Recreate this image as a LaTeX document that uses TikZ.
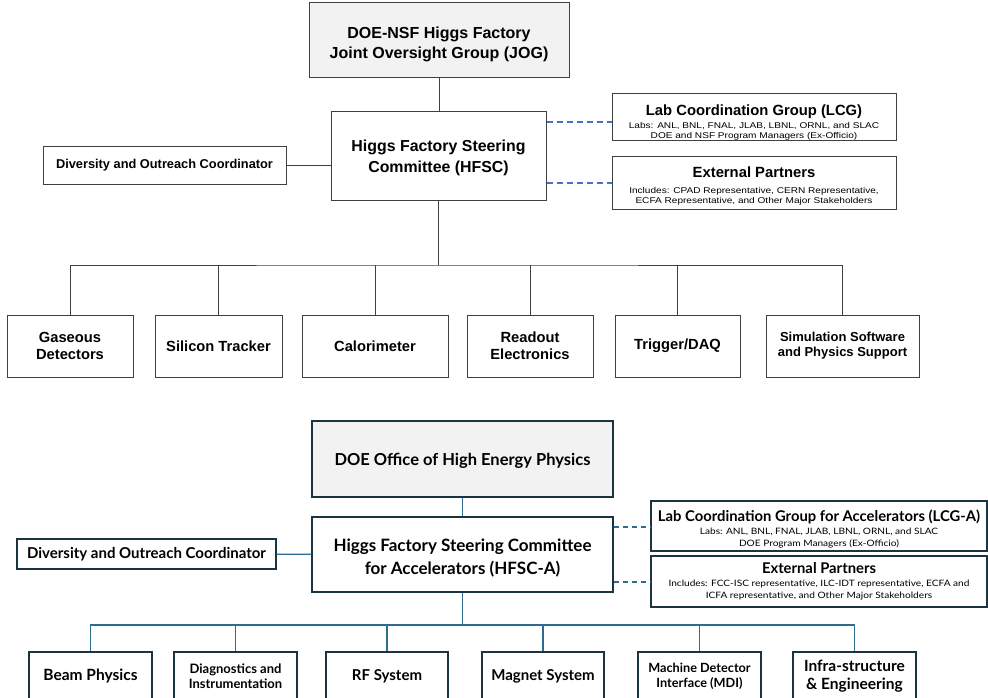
\documentclass[tikz,border=0pt]{standalone}
\usepackage{fontspec}
\newfontfamily\hfsfont{Liberation Sans}
\newfontfamily\hfssmall[FakeStretch=1.2]{Liberation Sans}
\newfontfamily\accfont{Lato}
\newfontfamily\accsmall[FakeStretch=1.15]{Lato}
\definecolor{boxgray}{HTML}{F2F2F2}
\definecolor{dashblue}{HTML}{4472C4}
\definecolor{accnavy}{HTML}{1B3442}
\definecolor{accline}{HTML}{2F6D8E}
% lower a line inside its box without changing the box size
\newcommand{\dropline}[2]{\raisebox{-#1}[\height][\depth]{#2}}
\newcommand{\smalltext}{\hfssmall\mdseries\fontsize{8.4}{10}\selectfont}
\newcommand{\accsmalltext}{\accsmall\mdseries\fontsize{8.8}{10}\selectfont}

\begin{document}
\begin{tikzpicture}[x=1pt, y=-1pt,
  main/.style = {draw=black!75, line width=1pt, align=center, inner sep=1pt},
  acc/.style = {draw=accnavy, line width=1.4pt, align=center, inner sep=1pt},
  boxsize/.style 2 args = {minimum width=#1pt, minimum height=#2pt},
  hf/.style = {font=\hfsfont\bfseries\fontsize{#1}{\dimexpr #1pt*115/100\relax}\selectfont},
  af/.style = {font=\accfont\bfseries\fontsize{#1}{\dimexpr #1pt*115/100\relax}\selectfont},
  link/.style = {draw=black!75, line width=1pt},
  alink/.style = {draw=accline, line width=1.4pt},
  dlink/.style = {draw=dashblue, line width=1.5pt, dash pattern=on 6pt off 4pt},
  adlink/.style = {draw=accline, line width=1.5pt, dash pattern=on 5pt off 4pt}]
\clip (0,0) rectangle (988,698);

% detector chart
\node[main, hf=16, fill=boxgray, boxsize={260}{75}] (jog) at (439,40.5) {\dropline{4pt}{DOE-NSF Higgs Factory}\\[2pt]\dropline{4pt}{Joint Oversight Group (JOG)}};
\node[main, hf=15.9, boxsize={215}{88}] (hfsc) at (438.5,156) {\dropline{2pt}{Higgs Factory Steering}\\[2pt]\dropline{2pt}{Committee (HFSC)}};
\node[main, hf=12.8, boxsize={243}{37}] (div) at (164.5,165.5) {Diversity and Outreach Coordinator};
\node[main, hf=14.8, boxsize={284}{47}] (lcg) at (754,117.5) {\dropline{5pt}{Lab Coordination Group (LCG)}\\[-4pt]
  \dropline{5pt}{\smalltext Labs: ANL, BNL, FNAL, JLAB, LBNL, ORNL, and SLAC}\\[-7pt]
  \dropline{5pt}{\smalltext DOE and NSF Program Managers (Ex-Officio)}};
\node[main, hf=14.8, boxsize={284}{52}] (ext) at (754,183) {\dropline{3pt}{External Partners}\\[-1pt]
  \dropline{3pt}{\smalltext Includes: CPAD Representative, CERN Representative,}\\[-7pt]
  \dropline{3pt}{\smalltext ECFA Representative, and Other Major Stakeholders}};
\node[main, hf=14.7, boxsize={126}{62}] (gas) at (70,346) {Gaseous\\Detectors};
\node[main, hf=14.7, boxsize={127}{62}] (sil) at (218.5,346) {Silicon Tracker};
\node[main, hf=14.7, boxsize={146}{62}] (cal) at (375,346) {Calorimeter};
\node[main, hf=14.7, boxsize={126}{62}] (rdo) at (530,346) {Readout\\Electronics};
\node[main, hf=14.7, boxsize={125}{62}] (trg) at (677.5,346) {Trigger/DAQ};
\node[main, hf=13, boxsize={153}{62}] (sim) at (842.5,346) {Simulation Software\\and Physics Support};
\coordinate (bus) at (438.5,265);

\draw[link] (jog.south) -- (jog.south |- hfsc.north);
\draw[link] (div.east) -- (div.east -| hfsc.west);
\draw[dlink] ([yshift=-4.5pt]lcg.west -| hfsc.east) -- ([yshift=-4.5pt]lcg.west);
\draw[dlink] (hfsc.east |- ext.west) -- (ext.west);
\draw[link] (hfsc.south) -- (bus);
\draw[link] (gas.north) |- (bus) -| (sim.north);
\draw[link] (sil.north) -- (sil.north |- bus);
\draw[link] (cal.north) -- (cal.north |- bus);
\draw[link] (rdo.north) -- (rdo.north |- bus);
\draw[link] (trg.north) -- (trg.north |- bus);

% accelerator chart
\node[acc, af=16.5, fill=boxgray, boxsize={301}{76}] (doe) at (462.5,459) {\dropline{2pt}{DOE Office of High Energy Physics}};
\node[acc, af=17, boxsize={301}{75}] (hfsca) at (462.5,554.5) {\dropline{4pt}{Higgs Factory Steering Committee}\\[3.5pt]\dropline{4pt}{for Accelerators (HFSC-A)}};
\node[acc, af=15, boxsize={259}{30}] (diva) at (146.5,554) {Diversity and Outreach Coordinator};
\node[acc, af=14.8, boxsize={336}{50}] (lcga) at (819,526) {\dropline{3pt}{Lab Coordination Group for Accelerators (LCG-A)}\\[-4.5pt]
  \dropline{3pt}{\accsmalltext Labs: ANL, BNL, FNAL, JLAB, LBNL, ORNL, and SLAC}\\[-5pt]
  \dropline{3pt}{\accsmalltext DOE Program Managers (Ex-Officio)}};
\node[acc, af=14.8, boxsize={336}{51}] (exta) at (819,581.5) {External Partners\\[-4pt]
  {\accsmalltext Includes: FCC-ISC representative, ILC-IDT representative, ECFA and}\\[-5pt]
  {\accsmalltext ICFA representative, and Other Major Stakeholders}};
\node[acc, af=15.5, boxsize={123}{48}] (beam) at (90.5,676) {Beam Physics};
\node[acc, af=13, boxsize={123}{48}] (diag) at (235.5,676) {Diagnostics and\\Instrumentation};
\node[acc, af=15, boxsize={122}{48}] (rf) at (387,676) {RF System};
\node[acc, af=15, boxsize={122}{48}] (mag) at (543,676) {Magnet System};
\node[acc, af=12.7, boxsize={123}{48}] (mdi) at (699.5,676) {Machine Detector\\Interface (MDI)};
\node[acc, af=15.5, boxsize={123}{48}] (infra) at (854.5,676) {Infra-structure\\\& Engineering};
\coordinate (abus) at (462.5,625);

\draw[alink] (doe) -- (hfsca);
\draw[alink] (diva) -- (hfsca);
\draw[adlink] ([yshift=-1pt]lcga.west -| hfsca.east) -- ([yshift=-1pt]lcga.west);
\draw[adlink] ([yshift=-0.5pt]exta.west -| hfsca.east) -- ([yshift=-0.5pt]exta.west);
\draw[alink] (hfsca.south) -- (abus);
\draw[alink] (beam.north) |- (abus) -| (infra.north);
\draw[alink] (diag.north) -- (diag.north |- abus);
\draw[alink] (rf.north) -- (rf.north |- abus);
\draw[alink] (mag.north) -- (mag.north |- abus);
\draw[alink] (mdi.north) -- (mdi.north |- abus);
\end{tikzpicture}
\end{document}
